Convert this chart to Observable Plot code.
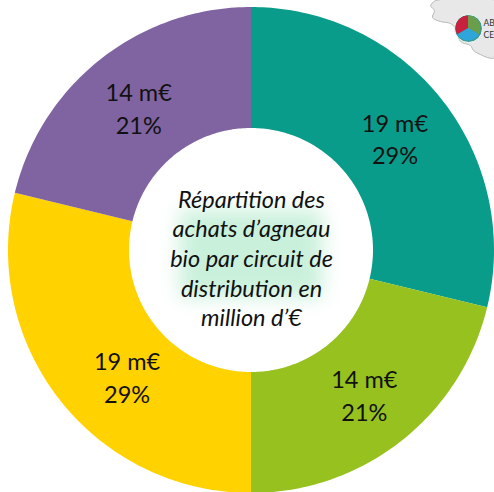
<!DOCTYPE html>
<html><head><meta charset="utf-8">
<script src="https://cdn.jsdelivr.net/npm/d3@7"></script>
<script src="https://cdn.jsdelivr.net/npm/@observablehq/plot@0.6"></script>
<style>html,body{margin:0;padding:0;background:#fff}svg{display:block}</style>
</head><body><div id="c"></div>
<script>
const categories = ["Circuit A", "Circuit B", "Circuit C", "Circuit D"];
const millions = [19, 14, 19, 14];
const shares = [29, 21, 29, 21];
const colors = ["#0a9c8a", "#96c11f", "#ffd200", "#8064a2"];
const title = "Répartition des\nachats d’agneau\nbio par circuit de\ndistribution en\nmillion d’€";
const logoSlices = [1, 1, 1];
const logoColors = ["#6a9e4a", "#2ea6dc", "#c8203f"];
const logoLabel = "AB\nCE";
const mapEdge = [[435,0],[430,5],[434,10],[432,17],[440,21],[450,23],[455,28],[460,41],[470,45],[473,50],[482,55],[487,57],[494,57],[494,0]];

const cx = 251, cy = 250, R = 243, r = 122;
const px = x => x - cx, py = y => cy - y;

function sectors(values, names, c0, c1, ro, ri) {
  const rows = [];
  d3.pie().sort(null)(values).forEach((a, i) => {
    const n = Math.max(2, Math.ceil((a.endAngle - a.startAngle) * 60));
    for (let k = 0; k <= n; k++) {
      const t = a.startAngle + (a.endAngle - a.startAngle) * k / n;
      rows.push({name: names[i],
        x1: c0 + ri * Math.sin(t), y1: c1 + ri * Math.cos(t),
        x2: c0 + ro * Math.sin(t), y2: c1 + ro * Math.cos(t)});
    }
  });
  return rows;
}
const ring = sectors(millions, categories, 0, 0, R, r);
const logoRing = sectors(logoSlices, logoColors, px(468), py(28), 12.5, 0);

const mid = (R + r) / 2;
const arcs = d3.pie().sort(null)(millions);
const nudge = i => i === 2 ? [19, -13] : [0, 0];
const labels = arcs.map((a, i) => {
  const t = (a.startAngle + a.endAngle) / 2;
  return {text: `${millions[i]} m€\n${shares[i]}%`,
    x: mid * Math.sin(t) + nudge(i)[0],
    y: mid * Math.cos(t) + nudge(i)[1]};
});

const plot = Plot.plot({
  width: 494, height: 492, margin: 0,
  x: {domain: [-cx, 494 - cx], range: [0, 494], axis: null},
  y: {domain: [cy, cy - 492], range: [0, 492], axis: null},
  color: {domain: categories, range: colors},
  style: {background: "#fff"},
  marks: [
    Plot.line(mapEdge.concat([mapEdge[0]]), {x: d => px(d[0]), y: d => py(d[1]), fill: "#e8e8e8", stroke: "#b8b8b8", strokeWidth: 1, curve: "catmull-rom"}),
    Plot.area(ring, {x1: "x1", y1: "y1", x2: "x2", y2: "y2", z: "name", fill: "name"}),
    Plot.rect([0], {x1: () => px(180), x2: () => px(322), y1: () => py(210), y2: () => py(297), fill: "#c6efd9", imageFilter: "blur(10px)", fillOpacity: 0.95}),
    Plot.dot([0], {x: () => px(468), y: () => py(28), r: 14, fill: "#3d9a94", stroke: "#fff", strokeWidth: 1}),
    ...logoColors.map(c => Plot.area(logoRing.filter(d => d.name === c), {x1: "x1", y1: "y1", x2: "x2", y2: "y2", fill: c})),
    Plot.text([logoLabel], {x: () => px(483), y: () => py(28), text: d => d, textAnchor: "start", fontFamily: "Lato", fontSize: 8.5, fill: "#333", lineHeight: 1.4}),
    Plot.text(labels, {x: "x", y: "y", text: "text", fontFamily: "Lato", fontSize: 23.5, fill: "#111", lineHeight: 1.38}),
    Plot.text([title], {x: () => 0, y: () => py(257), text: d => d, fontFamily: "Lato", fontStyle: "italic", fontSize: 23.5, fill: "#111", lineHeight: 1.26})
  ]
});
document.getElementById("c").append(plot);
</script></body></html>
